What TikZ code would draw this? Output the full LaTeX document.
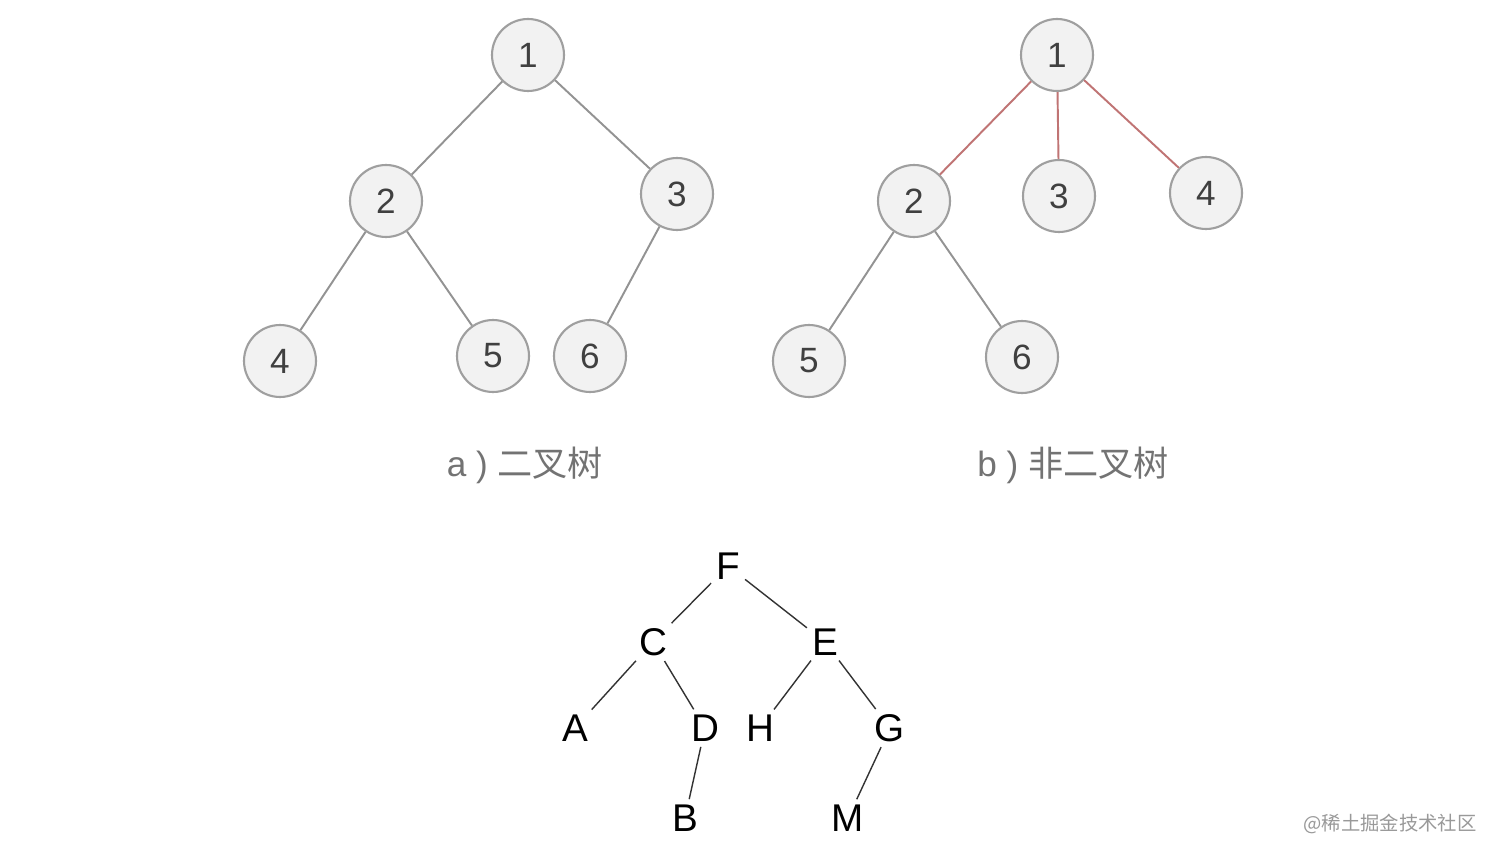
\documentclass[tikz,border=0pt]{standalone}
\usepackage{fontspec}
\setmainfont{Liberation Sans}
\newfontfamily\cjk{Noto Sans CJK SC}
\definecolor{edred}{HTML}{C07474}
\begin{document}
\begin{tikzpicture}[x=0.02cm,y=-0.02cm,
  cn/.style={circle,draw=gray!75,line width=1.2pt,fill=gray!10,minimum size=1.44cm,inner sep=0pt,font=\fontsize{20}{24}\selectfont,text=black!75},
  ed/.style={draw=gray!85,line width=1.1pt},
  rd/.style={draw=edred,line width=1.1pt},
  lt/.style={font=\fontsize{22}{26}\selectfont,inner sep=2pt},
  le/.style={draw=black!80,line width=0.8pt,shorten <=1pt,shorten >=1pt}]
\useasboundingbox (0,0) rectangle (1494,858);
\fill[white] (0,0) rectangle (1494,858);
% a
\node[cn] (a1) at (528,55) {1};
\node[cn] (a2) at (386,201) {2};
\node[cn] (a3) at (677,194) {3};
\node[cn] (a4) at (280,361) {4};
\node[cn] (a5) at (493,356) {5};
\node[cn] (a6) at (590,356) {6};
\draw[ed] (a1)--(a2); \draw[ed] (a1)--(a3); \draw[ed] (a2)--(a4);
\draw[ed] (a2)--(a5); \draw[ed] (a3)--(a6);
% b
\node[cn] (b1) at (1057,55) {1};
\node[cn] (b2) at (914,201) {2};
\node[cn] (b3) at (1059,196) {3};
\node[cn] (b4) at (1206,193) {4};
\node[cn] (b5) at (809,361) {5};
\node[cn] (b6) at (1022,357) {6};
\draw[rd] (b1)--(b2); \draw[rd] (b1)--(b3); \draw[rd] (b1)--(b4);
\draw[ed] (b2)--(b5); \draw[ed] (b2)--(b6);
\node[text=gray!90!black,font=\fontsize{20}{24}\selectfont] (la) at (525,465) {a ) {\cjk 二叉树}};
\node[text=gray!90!black,font=\fontsize{20}{24}\selectfont] (lb) at (1073,465) {b ) {\cjk 非二叉树}};
% bottom
\node[lt] (F) at (728,566) {F};
\node[lt] (C) at (653,642) {C};
\node[lt] (E) at (825,642) {E};
\node[lt] (A) at (575,728) {A};
\node[lt] (D) at (705,728) {D};
\node[lt] (H) at (760,728) {H};
\node[lt] (G) at (890,728) {G};
\node[lt] (B) at (685,818) {B};
\node[lt] (M) at (848,818) {M};
\draw[le] (F)--(C); \draw[le] (F)--(E); \draw[le] (C)--(A); \draw[le] (C)--(D);
\draw[le] (E)--(H); \draw[le] (E)--(G); \draw[le] (D)--(B); \draw[le] (G)--(M);
\node[text=gray!80,font=\cjk\fontsize{11}{13}\selectfont] (wm) at (1390,824) {@稀土掘金技术社区};
\end{tikzpicture}
\end{document}
